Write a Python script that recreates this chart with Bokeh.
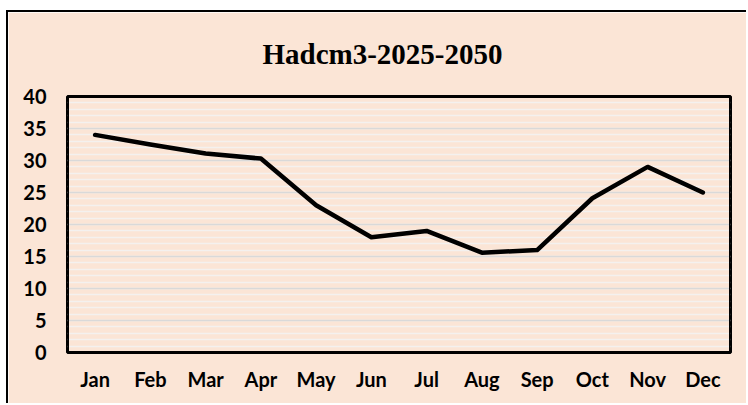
from bokeh.plotting import figure
from bokeh.embed import file_html
from bokeh.resources import INLINE
from bokeh.models import SingleIntervalTicker, Range1d, BoxAnnotation

months = ["Jan", "Feb", "Mar", "Apr", "May", "Jun", "Jul", "Aug", "Sep", "Oct", "Nov", "Dec"]
values = [34.0, 32.5, 31.1, 30.3, 23.0, 18.0, 19.0, 15.6, 16.0, 24.1, 29.0, 25.0]
title_text = "Hadcm3-2025-2050"
y_ticks_interval = 5
y_min, y_max = 0, 40

BG = "#fbe5d6"

p = figure(x_range=months, width=740, height=393, output_backend="svg",
           toolbar_location=None, title=title_text,
           min_border_left=59, min_border_right=18, min_border_top=83, min_border_bottom=53)
p.y_range = Range1d(y_min, y_max)
p.styles = {"border-left": "2px solid black", "border-top": "2px solid black",
            "margin-top": "10px", "margin-left": "6px"}

p.background_fill_color = BG
p.border_fill_color = BG
p.outline_line_color = "black"
p.outline_line_width = 3

p.title.align = "left"
p.title.offset = 195
p.title.vertical_align = "top"
p.title.standoff = 50
p.title.text_font = "Liberation Serif"
p.title.text_font_size = "29px"
p.title.text_font_style = "bold"
p.title.text_color = "black"

p.yaxis.ticker = SingleIntervalTicker(interval=y_ticks_interval, num_minor_ticks=5)
p.xgrid.visible = False
p.ygrid.grid_line_color = "#d9d9d9"
p.ygrid.grid_line_width = 1.5
p.ygrid.minor_grid_line_color = "#f4f1ef"
p.ygrid.minor_grid_line_width = 1.5

for ax in (p.xaxis, p.yaxis):
    ax.axis_line_color = None
    ax.major_tick_line_color = None
    ax.minor_tick_line_color = None
    ax.major_label_text_font = "Lato"
    ax.major_label_text_font_style = "bold"
    ax.major_label_text_font_size = "20px"
    ax.major_label_text_color = "black"
p.yaxis.major_label_standoff = 15
p.xaxis.major_label_standoff = 8

p.line(months, values, line_color="black", line_width=4.5, line_join="round", line_cap="round")

p.add_layout(BoxAnnotation(fill_color=None, line_color="black", line_alpha=1.0,
                           line_width=3, level="annotation"))

open("out.html", "w").write(file_html(p, INLINE))
